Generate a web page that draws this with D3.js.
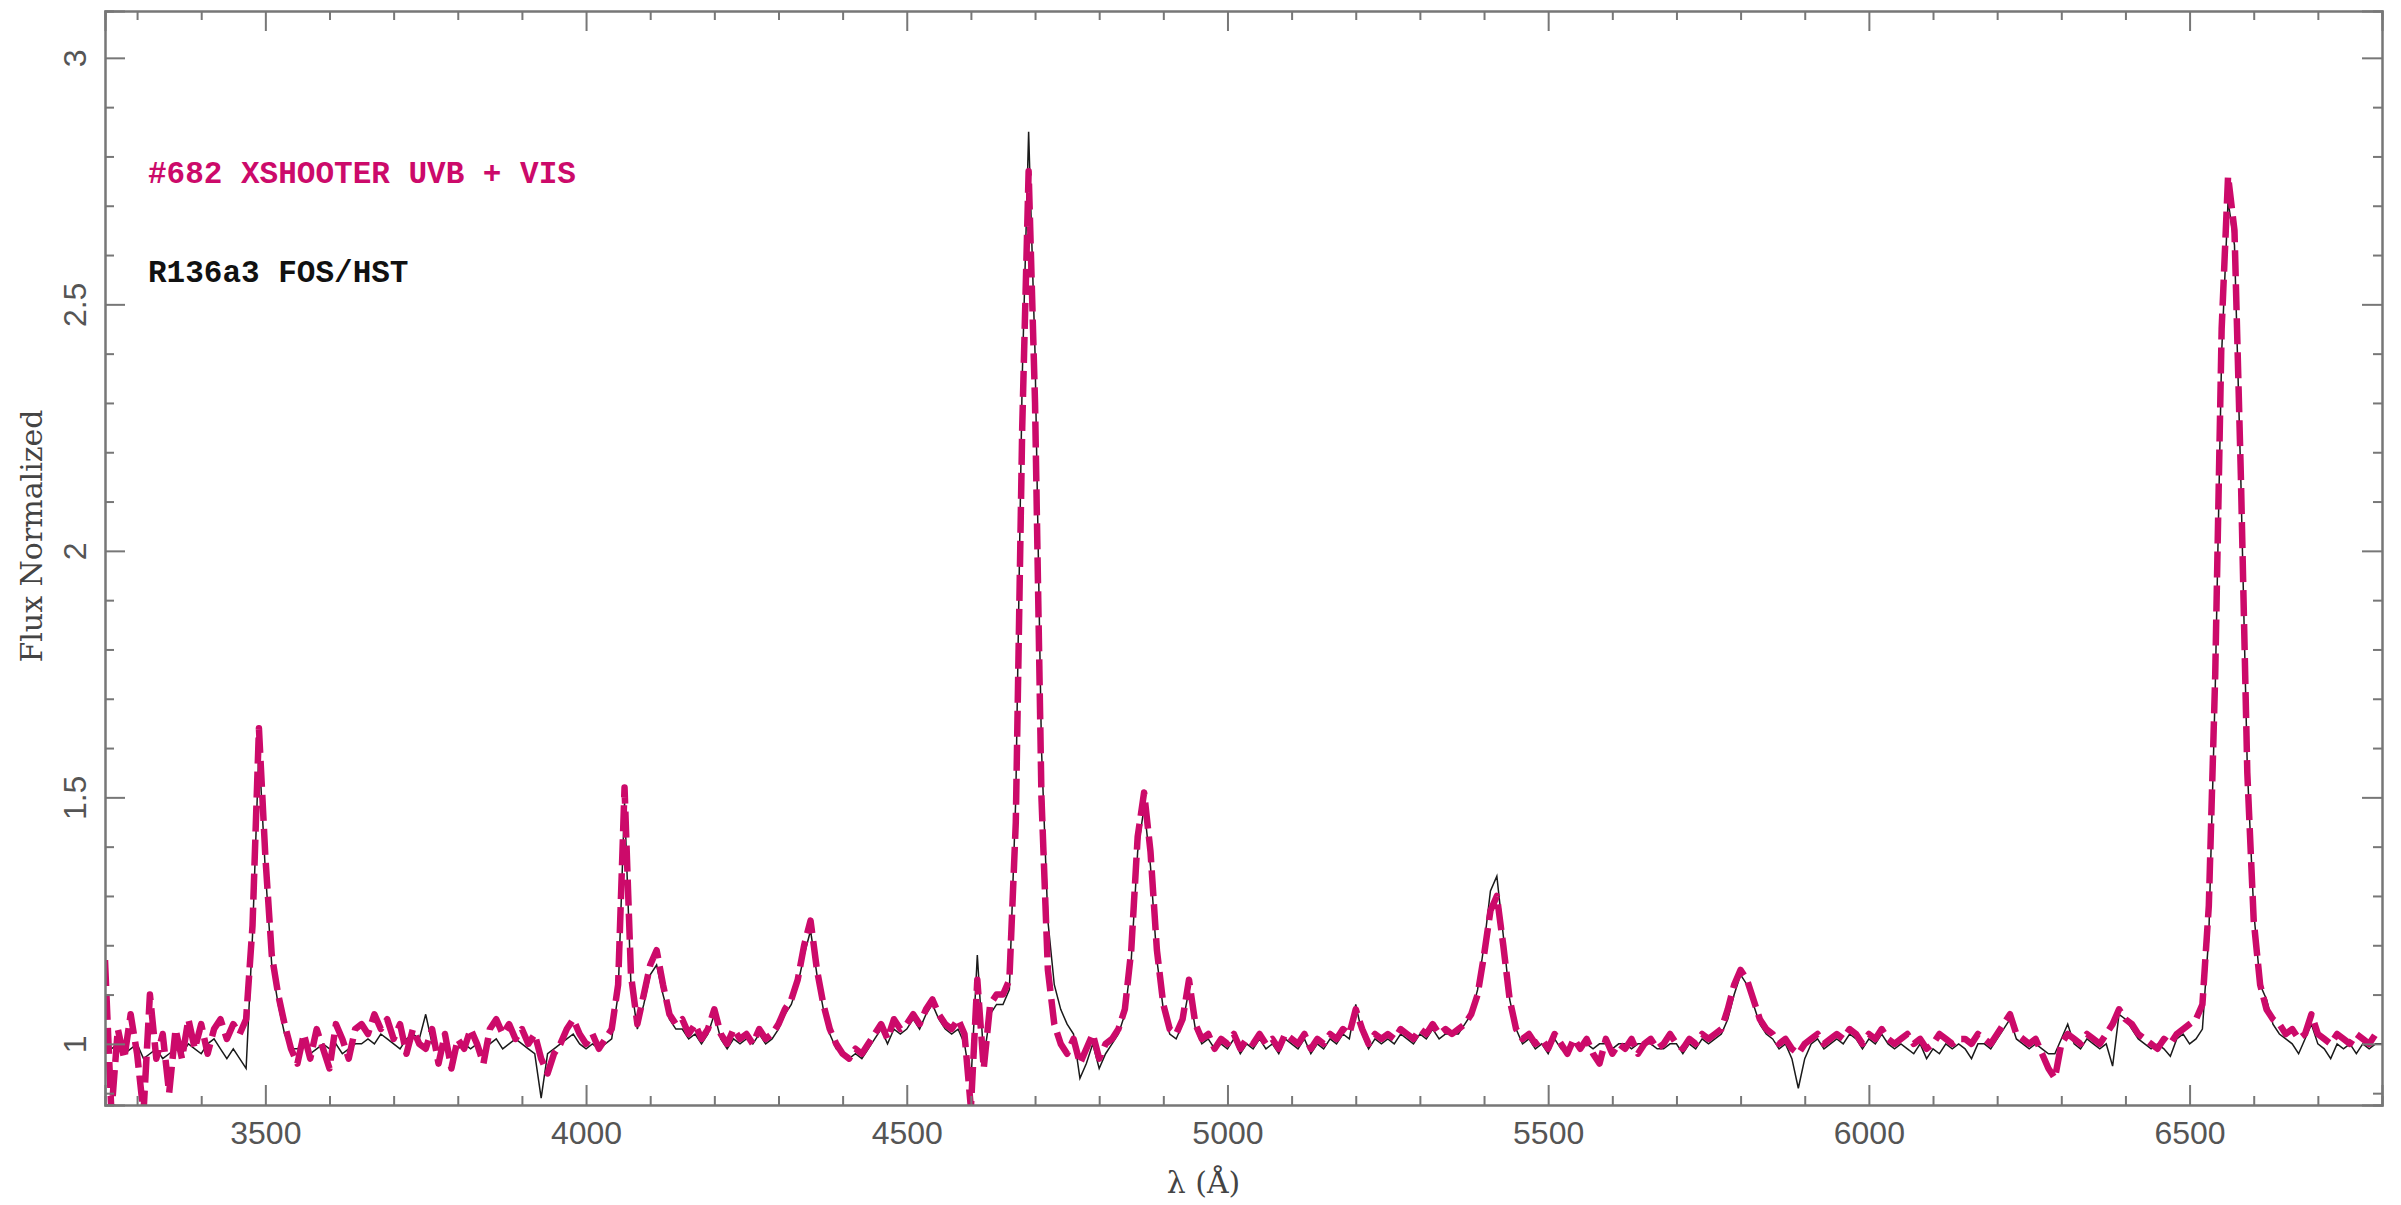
<!DOCTYPE html>
<html>
<head>
<meta charset="utf-8">
<script src="https://cdn.jsdelivr.net/npm/d3@7"></script>
<style>
  body { margin: 0; background: #fff; }
  svg { display: block; }
  .axis path, .axis line { stroke: #777; stroke-width: 2; }
  .axis text { font-family: "Liberation Sans", Arial, sans-serif; font-size: 32px; fill: #555; }
</style>
</head>
<body>
<svg id="chart" width="2401" height="1205"></svg>
<script>
// wavelength grid (Angstrom), both spectra sampled every 10 A
const lambdaStart = 3250, lambdaStep = 10;

// #682 XSHOOTER UVB + VIS (magenta, dashed)
const xshooter = [
  1.17, 0.86, 1.03, 0.97, 1.06, 0.98, 0.86, 1.10, 0.97, 1.02,
  0.90, 1.03, 0.97, 1.05, 0.99, 1.04, 0.98, 1.03, 1.05, 1.01,
  1.04, 1.02, 1.05, 1.24, 1.64, 1.38, 1.18, 1.10, 1.04, 0.99,
  0.96, 1.02, 0.97, 1.03, 0.99, 0.95, 1.04, 1.01, 0.97, 1.03,
  1.04, 1.02, 1.06, 1.03, 1.05, 1.01, 1.04, 0.98, 1.03, 1.00,
  0.99, 1.03, 0.96, 1.02, 0.95, 1.01, 0.99, 1.03, 1.00, 0.96,
  1.03, 1.05, 1.02, 1.04, 1.01, 1.03, 1.00, 1.02, 0.97, 0.94,
  0.98, 1.00, 1.03, 1.05, 1.02, 1.00, 1.02, 0.99, 1.01, 1.03,
  1.12, 1.52, 1.14, 1.04, 1.10, 1.16, 1.19, 1.12, 1.06, 1.04,
  1.05, 1.02, 1.04, 1.01, 1.03, 1.07, 1.02, 1.00, 1.03, 1.01,
  1.02, 1.00, 1.03, 1.01, 1.02, 1.04, 1.07, 1.09, 1.13, 1.20,
  1.25, 1.15, 1.08, 1.03, 1.00, 0.98, 0.97, 0.99, 0.98, 1.00,
  1.02, 1.04, 1.01, 1.05, 1.03, 1.04, 1.06, 1.04, 1.07, 1.09,
  1.06, 1.04, 1.03, 1.05, 1.02, 0.87, 1.13, 0.95, 1.08, 1.10,
  1.10, 1.13, 1.45, 2.25, 2.77, 2.30, 1.50, 1.15, 1.04, 1.00,
  0.98, 1.01, 0.96, 0.99, 1.02, 0.97, 1.00, 1.01, 1.03, 1.07,
  1.19, 1.42, 1.51, 1.39, 1.19, 1.08, 1.03, 1.02, 1.05, 1.13,
  1.04, 1.01, 1.02, 0.99, 1.01, 1.00, 1.02, 0.99, 1.01, 1.00,
  1.02, 1.00, 1.01, 0.99, 1.02, 1.01, 1.00, 1.02, 0.99, 1.01,
  1.00, 1.02, 1.01, 1.03, 1.02, 1.07, 1.03, 1.00, 1.02, 1.01,
  1.02, 1.01, 1.03, 1.02, 1.01, 1.03, 1.02, 1.04, 1.02, 1.03,
  1.02, 1.03, 1.04, 1.06, 1.10, 1.18, 1.27, 1.30, 1.20, 1.09,
  1.03, 1.01, 1.02, 1.00, 1.01, 0.99, 1.02, 1.00, 0.98, 1.01,
  0.99, 1.01, 0.98, 0.96, 1.01, 0.98, 1.00, 0.99, 1.01, 0.98,
  1.00, 1.01, 0.99, 1.00, 1.02, 1.00, 0.99, 1.01, 1.00, 1.02,
  1.01, 1.02, 1.03, 1.07, 1.12, 1.15, 1.13, 1.09, 1.05, 1.03,
  1.02, 1.00, 1.01, 0.99, 0.98, 1.00, 1.01, 1.02, 1.00, 1.01,
  1.02, 1.01, 1.03, 1.02, 1.00, 1.02, 1.01, 1.03, 1.01, 1.00,
  1.01, 1.02, 1.00, 1.01, 0.99, 1.00, 1.02, 1.01, 1.00, 1.01,
  1.01, 1.00, 1.02, 1.01, 1.00, 1.02, 1.04, 1.06, 1.02, 1.01,
  1.00, 1.01, 0.98, 0.95, 0.93, 1.00, 1.02, 1.01, 1.00, 1.02,
  1.01, 1.00, 1.02, 1.04, 1.07, 1.05, 1.04, 1.02, 1.01, 1.00,
  0.99, 1.01, 1.00, 1.02, 1.03, 1.04, 1.05, 1.08, 1.28, 1.75,
  2.45, 2.76, 2.65, 2.15, 1.55, 1.25, 1.12, 1.07, 1.05, 1.04,
  1.02, 1.03, 1.01, 1.02, 1.06, 1.02, 1.01, 1.00, 1.02, 1.01,
  1.00, 1.02, 1.01, 1.00, 1.02, 1.02
];

// R136a3 FOS/HST (black, thin)
const fos = [
  1.00, 0.99, 1.00, 0.98, 0.99, 1.00, 0.97, 0.98, 0.99, 0.97,
  0.98, 0.99, 0.98, 1.00, 0.99, 0.98, 1.00, 1.01, 0.99, 0.97,
  0.99, 0.97, 0.95, 1.22, 1.60, 1.35, 1.16, 1.08, 1.02, 0.99,
  0.99, 1.00, 0.98, 0.99, 1.00, 0.99, 1.00, 0.98, 0.99, 1.00,
  1.00, 1.01, 1.00, 1.02, 1.01, 1.00, 0.99, 1.01, 1.02, 1.01,
  1.06, 1.00, 0.99, 1.00, 0.98, 0.99, 1.00, 0.99, 1.00, 0.98,
  1.00, 1.01, 0.99, 1.00, 1.01, 1.00, 0.99, 0.98, 0.89, 0.98,
  0.99, 1.00, 1.01, 1.02, 1.00, 0.99, 1.00, 0.99, 1.00, 1.01,
  1.10, 1.49, 1.12, 1.03, 1.08, 1.14, 1.16, 1.10, 1.05, 1.03,
  1.03, 1.01, 1.02, 1.00, 1.02, 1.06, 1.01, 0.99, 1.01, 1.00,
  1.01, 1.00, 1.02, 1.00, 1.01, 1.03, 1.06, 1.08, 1.12, 1.18,
  1.23, 1.14, 1.07, 1.02, 0.99, 0.98, 0.97, 0.98, 0.97, 0.99,
  1.01, 1.03, 1.00, 1.03, 1.02, 1.03, 1.05, 1.03, 1.06, 1.08,
  1.05, 1.03, 1.02, 1.03, 1.00, 0.92, 1.18, 0.97, 1.06, 1.08,
  1.08, 1.11, 1.50, 2.35, 2.85, 2.40, 1.60, 1.25, 1.12, 1.07,
  1.04, 1.02, 0.93, 0.96, 1.00, 0.95, 0.98, 1.00, 1.02, 1.06,
  1.17, 1.39, 1.48, 1.36, 1.17, 1.07, 1.02, 1.01, 1.04, 1.11,
  1.03, 1.00, 1.01, 0.99, 1.00, 0.99, 1.01, 0.98, 1.00, 0.99,
  1.01, 0.99, 1.00, 0.98, 1.01, 1.00, 0.99, 1.01, 0.98, 1.00,
  0.99, 1.01, 1.00, 1.02, 1.01, 1.08, 1.02, 0.99, 1.01, 1.00,
  1.01, 1.00, 1.02, 1.01, 1.00, 1.02, 1.01, 1.03, 1.01, 1.02,
  1.02, 1.02, 1.04, 1.06, 1.11, 1.20, 1.31, 1.34, 1.22, 1.09,
  1.03, 1.00, 1.01, 0.99, 1.00, 0.98, 1.01, 0.99, 0.98, 1.00,
  1.00, 1.00, 0.99, 1.00, 1.00, 0.99, 1.00, 1.00, 0.99, 1.00,
  1.00, 1.00, 0.99, 0.99, 1.00, 1.00, 0.98, 1.00, 0.99, 1.01,
  1.00, 1.01, 1.02, 1.05, 1.10, 1.14, 1.12, 1.08, 1.04, 1.02,
  1.01, 0.99, 1.00, 0.97, 0.91, 0.97, 1.00, 1.01, 0.99, 1.00,
  1.01, 1.00, 1.02, 1.01, 0.99, 1.01, 1.00, 1.02, 1.00, 0.99,
  1.00, 0.99, 0.98, 1.00, 0.97, 0.99, 0.98, 1.00, 0.99, 1.00,
  0.99, 0.97, 1.00, 1.00, 0.99, 1.01, 1.03, 1.05, 1.01, 1.00,
  0.99, 1.00, 0.99, 0.98, 0.98, 1.01, 1.04, 1.00, 0.99, 1.01,
  1.00, 0.99, 1.00, 0.955, 1.06, 1.05, 1.03, 1.01, 1.00, 0.99,
  1.00, 0.99, 0.975, 1.01, 1.02, 1.00, 1.01, 1.03, 1.22, 1.72,
  2.40, 2.71, 2.62, 2.14, 1.56, 1.27, 1.12, 1.09, 1.04, 1.02,
  1.01, 1.00, 0.98, 1.01, 1.04, 1.00, 0.99, 0.97, 1.00, 0.99,
  1.00, 0.98, 1.00, 0.99, 1.00, 1.00
];

const xMajor = [3500, 4000, 4500, 5000, 5500, 6000, 6500];
const yMajor = [1, 1.5, 2, 2.5, 3];
const legendLabels = ["#682 XSHOOTER UVB + VIS", "R136a3 FOS/HST"];

const magenta = "#cc0a6a";

const svg = d3.select("#chart"),
    width = +svg.attr("width"),
    height = +svg.attr("height");
const margin = {top: 11, right: 19, bottom: 100, left: 105};

const x = d3.scaleLinear().domain([3250, 6800]).range([margin.left, width - margin.right]);
const y = d3.scaleLinear().domain([0.876, 3.095]).range([height - margin.bottom, margin.top]);

const xMinor = d3.range(3300, 6800, 100).filter(v => !xMajor.includes(v));
const yMinor = d3.range(9, 31).map(v => v / 10).filter(v => !yMajor.includes(v));

svg.append("clipPath").attr("id", "plot-clip")
  .append("rect")
    .attr("x", margin.left).attr("y", margin.top)
    .attr("width", width - margin.left - margin.right)
    .attr("height", height - margin.top - margin.bottom);

// spectra
const line = d3.line()
    .x((d, i) => x(lambdaStart + i * lambdaStep))
    .y(d => y(d));

const lines = svg.append("g").attr("clip-path", "url(#plot-clip)");

lines.append("path")
    .attr("d", line(fos))
    .attr("fill", "none")
    .attr("stroke", "#1a1a1a")
    .attr("stroke-width", 1.5);

lines.append("path")
    .attr("d", line(xshooter))
    .attr("fill", "none")
    .attr("stroke", magenta)
    .attr("stroke-width", 6.5)
    .attr("stroke-dasharray", "26,8")
    .attr("stroke-linejoin", "round");

// axes: ticks inward on all four sides
const bottomY = height - margin.bottom, rightX = width - margin.right;

svg.append("g").attr("class", "axis")
    .attr("transform", `translate(0,${bottomY})`)
    .call(d3.axisBottom(x).tickValues(xMajor).tickSize(-20).tickPadding(16).tickFormat(d3.format("d")));
svg.append("g").attr("class", "axis")
    .attr("transform", `translate(0,${bottomY})`)
    .call(d3.axisBottom(x).tickValues(xMinor).tickSize(-9).tickFormat(""));
svg.append("g").attr("class", "axis")
    .attr("transform", `translate(0,${margin.top})`)
    .call(d3.axisTop(x).tickValues(xMajor).tickSize(-20).tickFormat(""));
svg.append("g").attr("class", "axis")
    .attr("transform", `translate(0,${margin.top})`)
    .call(d3.axisTop(x).tickValues(xMinor).tickSize(-9).tickFormat(""));

const left = svg.append("g").attr("class", "axis")
    .attr("transform", `translate(${margin.left},0)`)
    .call(d3.axisLeft(y).tickValues(yMajor).tickSize(-20).tickFormat(d => d));
left.selectAll(".tick text")
    .attr("x", null).attr("dy", null)
    .attr("transform", "translate(-30,0) rotate(-90)")
    .attr("text-anchor", "middle")
    .attr("dominant-baseline", "central");
svg.append("g").attr("class", "axis")
    .attr("transform", `translate(${margin.left},0)`)
    .call(d3.axisLeft(y).tickValues(yMinor).tickSize(-9).tickFormat(""));
svg.append("g").attr("class", "axis")
    .attr("transform", `translate(${rightX},0)`)
    .call(d3.axisRight(y).tickValues(yMajor).tickSize(-20).tickFormat(""));
svg.append("g").attr("class", "axis")
    .attr("transform", `translate(${rightX},0)`)
    .call(d3.axisRight(y).tickValues(yMinor).tickSize(-9).tickFormat(""));

// axis titles
svg.append("text")
    .attr("x", (margin.left + rightX) / 2 - 40)
    .attr("y", 1193)
    .attr("text-anchor", "middle")
    .style("font-family", "'DejaVu Serif', serif")
    .style("font-size", "30px")
    .attr("fill", "#444")
    .text("\u03bb  (\u00c5)");

svg.append("text")
    .attr("transform", "translate(31,536) rotate(-90)")
    .attr("text-anchor", "middle")
    .attr("dominant-baseline", "central")
    .style("font-family", "'DejaVu Serif', serif")
    .style("font-size", "30px")
    .attr("fill", "#444")
    .text("Flux Normalized");

// legend labels
svg.selectAll(".legend")
  .data(legendLabels)
  .enter().append("text")
    .attr("class", "legend")
    .attr("x", 148)
    .attr("y", (d, i) => 183 + i * 99)
    .style("font-family", "'Liberation Mono', monospace")
    .style("font-weight", "bold")
    .style("font-size", "31px")
    .attr("fill", (d, i) => i === 0 ? magenta : "#111")
    .text(d => d);
</script>
</body>
</html>
